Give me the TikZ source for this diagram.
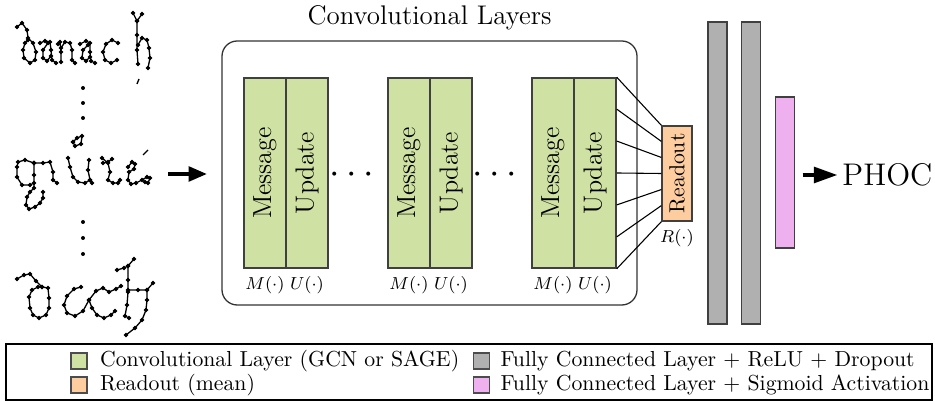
\documentclass[tikz,border=0pt]{standalone}
\usepackage{amsmath}
\usepackage{tikz}
\usetikzlibrary{arrows.meta,calc,positioning}

\definecolor{convgreen}{RGB}{207,226,163}
\definecolor{readorange}{RGB}{253,205,160}
\definecolor{fcgray}{RGB}{176,176,176}
\definecolor{fcpink}{RGB}{238,176,238}
\newcommand\pix{0.46pt}

\tikzset{
  stroke/.style={line width=0.6pt, mark=*, mark size=0.7pt},
  layer/.style={draw=black!75, line width=0.7pt, fill=convgreen, inner sep=0pt, minimum width=42*\pix, minimum height=190*\pix},
  readbox/.style={draw=black!75, line width=0.6pt, fill=readorange, inner sep=0pt, minimum width=30*\pix, minimum height=95*\pix},
  fcbar/.style={draw=black!75, line width=0.6pt, fill=fcgray, inner sep=0pt, minimum width=19*\pix, minimum height=302*\pix},
  convbox/.style={draw=black!80, line width=0.6pt, rounded corners=7pt, minimum width=415*\pix, minimum height=264*\pix},
  fn/.style={font=\fontsize{8.5}{10}\selectfont, inner sep=0pt},
  bigarrow/.style={line width=2.2pt, -{Triangle[length=8.6pt,width=6.5pt]}},
  key/.style={draw=black!70, line width=0.6pt, minimum size=16*\pix, inner sep=0pt},
  keytext/.style={inner sep=0pt}
}

\begin{document}
\begin{tikzpicture}[x=\pix, y=-\pix]
\useasboundingbox (0,0) rectangle (935,401);

\draw[stroke] plot coordinates {(17,27) (22,23) (27,30) (28,38) (33,43) (36,52) (35,60) (30,63) (24,58) (23,50) (25,43) (28,40)};
\draw[stroke] plot coordinates {(40,43) (45,41) (50,42) (51,50) (52,60) (56,63)};
\draw[stroke] plot coordinates {(48,43) (43,50) (43,58) (47,61) (51,56)};
\draw[stroke] plot coordinates {(58,44) (60,42) (61,52) (61,62)};
\draw[stroke] plot coordinates {(61,48) (65,42) (70,43) (72,50) (72,60) (75,63)};
\draw[stroke] plot coordinates {(80,44) (86,41) (90,43) (90,52) (91,61) (95,63)};
\draw[stroke] plot coordinates {(88,45) (83,50) (82,58) (86,61) (90,57)};
\draw[stroke] plot coordinates {(118,43) (112,40) (106,44) (103,52) (105,60) (111,63) (117,60)};
\draw[stroke] plot coordinates {(133,13) (137,21) (142,14)};
\draw[stroke] plot coordinates {(137,21) (137,35) (137,50) (138,64)};
\draw[stroke] plot coordinates {(138,45) (142,38) (147,40) (149,48) (150,58) (148,68)};
\draw[line width=0.6pt] (137,84) -- (139,79);

\draw[stroke] plot coordinates {(34,163) (25,160) (18,162) (17,167) (17,177) (22,185) (30,185) (34,183)};
\draw[stroke] plot coordinates {(34,163) (34,175) (34,188) (30,192) (27,197) (26,205) (29,209) (35,207) (40,203) (43,198) (43,192)};
\draw[stroke] plot coordinates {(34,163) (43,163) (50,162) (53,172) (53,180) (57,183)};
\draw[stroke] plot coordinates {(68,158) (70,167) (73,177) (78,182) (85,183) (90,180) (88,170) (89,160)};
\draw[stroke] plot coordinates {(90,180) (92,183)};
\draw[stroke] plot coordinates {(73,142) (77,138) (82,136) (81,144) (75,146) (73,142)};
\draw[stroke] plot coordinates {(103,163) (108,162) (112,159)};
\draw[stroke] plot coordinates {(102,158) (108,163) (110,172) (108,180) (113,183) (118,183) (120,180)};
\draw[stroke] plot coordinates {(128,167) (132,162) (135,164) (134,169) (129,172) (128,180) (131,184) (136,183) (142,180) (147,177) (150,178) (148,183) (145,182)};
\draw[line width=0.6pt] (143,155) -- (148,150);

\draw[stroke] plot coordinates {(17,279) (24,275) (30,274) (36,281) (42,287) (48,288) (49,298) (49,308) (46,315) (39,318) (33,315) (30,308) (29,297) (32,290) (38,287) (42,287)};
\draw[stroke] plot coordinates {(81,287) (74,289) (67,296) (64,305) (67,313) (75,316) (83,311) (89,300) (96,291) (103,288) (109,292) (116,289) (121,286)};
\draw[stroke] plot coordinates {(89,300) (92,308) (97,315) (104,318) (111,315) (115,311)};
\draw[stroke] plot coordinates {(117,270) (124,268) (128,266) (134,259)};
\draw[stroke] plot coordinates {(128,266) (128,280) (128,292) (127,305) (125,316) (129,318)};
\draw[stroke] plot coordinates {(128,290) (138,290) (147,290) (153,283)};
\draw[stroke] plot coordinates {(147,290) (147,300) (146,310) (142,320) (135,328) (126,335)};

\foreach \y in {88,103,118,222,238,254} \fill (83,\y) circle (2);

\node[convbox] (conv) at (429.5,173) {};
\node[font=\fontsize{12.4}{15}\selectfont] (convtitle) at (429.5,18) {Convolutional Layers};
\foreach \i/\x in {1/265,2/409,3/553}{
  \node[layer] (msg\i) at (\x,173) {\rotatebox{90}{\large Message}};
  \node[layer] (upd\i) at (\x+42,173) {\rotatebox{90}{\large Update}};
  \node[fn] (mlab\i) at (\x,285) {$M(\cdot)$};
  \node[fn] (ulab\i) at (\x+42,285) {$U(\cdot)$};
}
\node (dots1) at (355,175) {\LARGE$\cdots$};
\node (dots2) at (498,175) {\LARGE$\cdots$};

\node[readbox] (ro) at (677,173.5) {\rotatebox{90}{Readout}};
\node[fn] (rlab) at (677,238) {$R(\cdot)$};
\foreach \k in {0,...,6} \draw[line width=0.5pt] ($(upd3.north east)!\k/6!(upd3.south east)$) -- ($(ro.north west)!\k/6!(ro.south west)$);

\node[fcbar] (fc1) at (717.5,173) {};
\node[fcbar] (fc2) at (751,173) {};
\node[fcbar, fill=fcpink, minimum height=151*\pix] (sig) at (785,172.5) {};

\node[font=\Large, inner sep=0pt, anchor=west] (phoc) at (842,175) {PHOC};
\draw[bigarrow, -{Triangle[length=11pt,width=7pt]}, shorten <=3.4pt, shorten >=1.9pt] (sig.east |- phoc.west) -- (phoc.west);

\coordinate (wordout) at (168,174);
\draw[bigarrow, shorten >=14*\pix] (wordout) -- (wordout -| conv.west);

\node[draw, line width=0.5pt, minimum width=926*\pix, minimum height=56*\pix, inner sep=0pt] (legend) at (469,372) {};
\node[key, fill=convgreen] (kconv) at (79,361) {};
\node[keytext, right=12*\pix of kconv] (tconv) {Convolutional Layer (GCN or SAGE)};
\node[key, fill=readorange] (kread) at (79,385) {};
\node[keytext, right=12*\pix of kread] (tread) {Readout (mean)};
\node[key, fill=fcgray] (kfc) at (481.5,361) {};
\node[keytext, right=10*\pix of kfc] (tfc) {Fully Connected Layer + ReLU + Dropout};
\node[key, fill=fcpink] (ksig) at (481.5,385) {};
\node[keytext, right=10*\pix of ksig] (tsig) {Fully Connected Layer + Sigmoid Activation};
\end{tikzpicture}
\end{document}
